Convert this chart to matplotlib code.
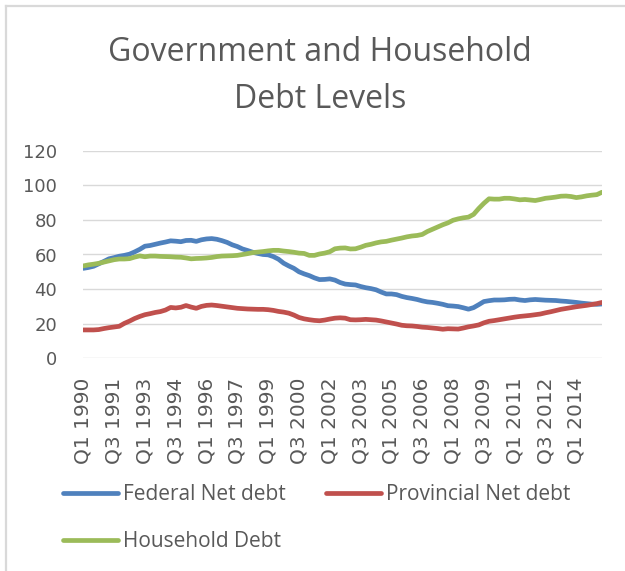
import matplotlib
matplotlib.use("Agg")
import matplotlib.pyplot as plt
from matplotlib.lines import Line2D

# ---------------- data ----------------
quarters = [f"Q{q} {y}" for y in range(1990, 2016) for q in range(1, 5)][:102]

federal = [52, 52.5, 53.2, 54.6, 56, 57.5, 58.2, 59, 59.5, 60.2,
           61.5, 63, 64.8, 65.2, 65.9, 66.6, 67.2, 67.9, 67.7, 67.4,
           68.1, 68.2, 67.6, 68.5, 69, 69.2, 68.8, 68, 67, 65.6,
           64.6, 63.2, 62.3, 61.3, 60.6, 60, 59.8, 58.8, 57.3, 55,
           53.4, 52, 50, 48.8, 47.8, 46.5, 45.5, 45.6, 45.9, 45.2,
           43.8, 42.9, 42.6, 42.4, 41.5, 40.8, 40.3, 39.6, 38.3, 37.2,
           37.2, 36.8, 35.8, 35.1, 34.6, 34, 33.2, 32.6, 32.3, 31.8,
           31.2, 30.4, 30.2, 29.9, 29.2, 28.4, 29.3, 31, 32.8, 33.3,
           33.7, 33.7, 33.8, 34.1, 34.2, 33.7, 33.4, 33.8, 34, 33.8,
           33.6, 33.5, 33.4, 33.1, 32.9, 32.6, 32.3, 31.9, 31.6, 31.3,
           31.2, 31.4]

provincial = [16.4, 16.4, 16.4, 16.6, 17.2, 17.7, 18.1, 18.5, 20.2, 21.5,
              23, 24.2, 25.2, 25.8, 26.5, 27, 27.9, 29.4, 29.1, 29.5,
              30.5, 29.6, 28.9, 30, 30.6, 30.8, 30.5, 30.1, 29.7, 29.3,
              28.9, 28.7, 28.5, 28.4, 28.3, 28.3, 28.1, 27.7, 27.1, 26.7,
              26.1, 25, 23.6, 22.8, 22.3, 21.9, 21.7, 22.1, 22.7, 23.2,
              23.4, 23.2, 22.3, 22.2, 22.3, 22.5, 22.3, 22.1, 21.6, 21,
              20.4, 19.8, 19.1, 18.8, 18.7, 18.4, 18, 17.8, 17.5, 17.2,
              16.8, 17.1, 17, 16.9, 17.5, 18.2, 18.7, 19.3, 20.5, 21.4,
              21.8, 22.3, 22.8, 23.3, 23.8, 24.2, 24.5, 24.8, 25.2, 25.6,
              26.3, 26.9, 27.6, 28.3, 28.8, 29.3, 29.8, 30.2, 30.6, 31.1,
              31.6, 32.3]

household = [53.4, 54, 54.4, 54.9, 55.6, 56.3, 57, 57.4, 57.4, 57.6,
             58.5, 59.2, 58.7, 59.1, 59.1, 58.9, 58.8, 58.7, 58.5, 58.4,
             58, 57.5, 57.7, 57.8, 58, 58.3, 58.8, 59.1, 59.2, 59.3,
             59.5, 60, 60.5, 61.1, 61.4, 61.7, 62.1, 62.4, 62.4, 62,
             61.7, 61.3, 60.8, 60.6, 59.5, 59.5, 60.3, 60.8, 61.6, 63.3,
             63.7, 63.8, 63.2, 63.3, 64.2, 65.3, 65.9, 66.7, 67.3, 67.6,
             68.3, 68.9, 69.5, 70.2, 70.7, 71, 71.6, 73.3, 74.6, 75.9,
             77.2, 78.3, 79.8, 80.6, 81.2, 81.6, 83.2, 86.6, 89.6, 92.2,
             92, 92, 92.5, 92.5, 92.1, 91.6, 91.8, 91.5, 91.2, 91.8,
             92.5, 92.8, 93.2, 93.7, 93.8, 93.5, 92.9, 93.3, 93.9, 94.3,
             94.6, 96]

tick_labels = ["Q1 1990", "Q3 1991", "Q1 1993", "Q3 1994", "Q1 1996",
               "Q3 1997", "Q1 1999", "Q3 2000", "Q1 2002", "Q3 2003",
               "Q1 2005", "Q3 2006", "Q1 2008", "Q3 2009", "Q1 2011",
               "Q3 2012", "Q1 2014"]
y_ticks = [0, 20, 40, 60, 80, 100, 120]

series_names = ["Federal Net debt", "Provincial Net debt", "Household Debt"]
series_colors = ["#4f81bd", "#c0504d", "#9bbb59"]

# ---------------- figure ----------------
W, H = 625, 571
fig = plt.figure(figsize=(W / 100, H / 100), dpi=100)
txt = "#595959"

L, R, B, T = 83.3, 602.0, 358.3, 150.7
ax = fig.add_axes([L / W, 1 - B / H, (R - L) / W, (B - T) / H])

x = list(range(len(quarters)))
lines = []
for vals, name, col in zip([federal, provincial, household], series_names, series_colors):
    ln, = ax.plot(x, vals, color=col, lw=3.4, solid_capstyle="round",
                  solid_joinstyle="round", label=name, zorder=3)
    lines.append(ln)

ax.set_xlim(0, len(quarters) - 1)
ax.set_ylim(0, 120)
ax.set_yticks(y_ticks)
ax.grid(axis="y", color="#d9d9d9", lw=1.0)
ax.set_axisbelow(True)
for s in ax.spines.values():
    s.set_visible(False)

tick_pos = [quarters.index(t) for t in tick_labels]
ax.set_xticks(tick_pos)
ax.set_xticklabels(tick_labels, rotation=90, fontsize=14.5,
                   family="DejaVu Sans", color=txt)
ax.tick_params(axis="x", length=0, pad=14)
ax.tick_params(axis="y", length=0, pad=19, labelsize=13, labelcolor=txt)
for lab in ax.get_yticklabels():
    lab.set_family("DejaVu Sans")

# title
tfont = dict(family="Open Sans", fontsize=23, color=txt, ha="center",
             va="baseline")
fig.text(320 / W, 1 - 61 / H, "Government and Household", **tfont)
fig.text(320 / W, 1 - 108 / H, "Debt Levels", **tfont)

# legend (row-wise order like Excel)
handles = [lines[0], lines[2], lines[1]]
labels = [series_names[0], series_names[2], series_names[1]]
leg = fig.legend(handles, labels, ncol=2, loc="upper left",
                 bbox_to_anchor=(63 / W, 1 - 484 / H), frameon=False,
                 prop={"family": "Open Sans", "size": 15},
                 handlelength=2.65, handletextpad=0.25, columnspacing=1.9,
                 labelspacing=1.25, borderaxespad=0, borderpad=0)
for t in leg.get_texts():
    t.set_color(txt)

# chart border (left and top edges visible)
fig.add_artist(Line2D([6 / W, 6 / W], [0, 1 - 6 / H], color="#d9d9d9",
                      lw=1.6, transform=fig.transFigure))
fig.add_artist(Line2D([6 / W, 1], [1 - 6 / H, 1 - 6 / H], color="#d9d9d9",
                      lw=1.6, transform=fig.transFigure))

fig.savefig("out.png", dpi=100, facecolor="white")
